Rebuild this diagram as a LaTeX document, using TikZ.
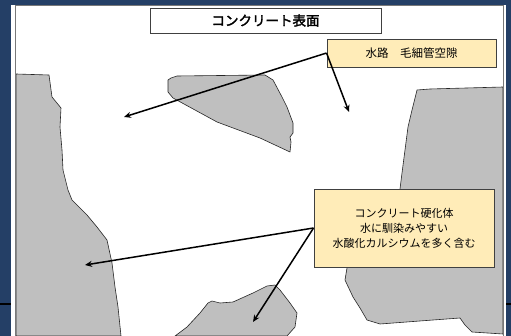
\documentclass[tikz,border=0pt]{standalone}
\usepackage{fontspec}
\usetikzlibrary{arrows.meta}
\newfontfamily\jp{Noto Sans CJK JP}
\newfontfamily\jpbold[FakeBold=2.2]{Noto Sans CJK JP}
\definecolor{navy}{RGB}{36,63,102}
\definecolor{rock}{RGB}{191,191,191}
\definecolor{note}{RGB}{255,236,184}
\definecolor{frame}{RGB}{120,120,120}
\tikzset{
  rockshape/.style={fill=rock, draw=black!85, line width=0.6pt, line join=round},
  notebox/.style={draw=black!75, fill=note, line width=0.9pt, inner sep=0pt, align=center},
  pointer/.style={-{Stealth[length=7pt,width=6pt]}, line width=1.5pt, black},
}
\begin{document}
\begin{tikzpicture}[x=1pt,y=-1pt]
\useasboundingbox (0,0) rectangle (511,336);
% background
\fill[navy] (0,0) rectangle (511,336);
\draw[black, line width=2pt] (0,304) -- (511,304);
\fill[white] (11,4.7) rectangle (505.5,336);
\fill[white] (16,6) rectangle (503,336);
% rocks
\draw[rockshape] (16,74) -- (49,75) -- (52,97) -- (61,108) -- (60,127) -- (62,150) -- (63,170) -- (68,190) -- (72,200) -- (87,215) -- (97,227) -- (107,240) -- (112,263) -- (115,287) -- (118,307) -- (121,336) -- (16,336) -- cycle;
\draw[rockshape] (168,80) -- (171,78) -- (177,76) -- (265,75) -- (273,80) -- (282,97) -- (287,107) -- (293,123) -- (293,133) -- (290,137) -- (291,142) -- (290,152) -- (260,138) -- (217,122) -- (173,98) -- (168,92) -- cycle;
\draw[rockshape] (417,90) -- (430,89) -- (503,87) -- (503,334) -- (472,332) -- (465,325) -- (460,318) -- (433,320) -- (380,324) -- (367,320) -- (360,308) -- (353,297) -- (345,280) -- (347,268) -- (350,262) -- (400,189) -- (402,173) -- (405,150) -- (408,127) -- (412,110) -- cycle;
\draw[rockshape] (175,336) -- (187,327) -- (200,313) -- (208,303) -- (212,301) -- (220,303) -- (233,302) -- (253,293) -- (267,286) -- (275,285) -- (280,290) -- (290,303) -- (297,313) -- (295,327) -- (287,336) -- cycle;
% panel frame
\draw[frame, line width=1.6pt] (15.5,340) -- (15.5,5.5) -- (503.5,5.5) -- (503.5,340);
% boxes
\node[draw=black!75, fill=white, line width=0.9pt, minimum width=231pt, minimum height=25pt, inner sep=0pt, font=\jpbold\fontsize{13.5}{15}\selectfont] (title) at (265.5,20.5) {コンクリート表面};
\node[notebox, minimum width=169pt, minimum height=28pt, font=\jp\fontsize{11.5}{13}\selectfont] (water) at (411.5,53) {水路　毛細管空隙};
\node[notebox, minimum width=180pt, minimum height=78pt, font=\jp\fontsize{11}{15}\selectfont] (cement) at (404,228) {コンクリート硬化体\\水に馴染みやすい\\水酸化カルシウムを多く含む};
% arrow targets
\coordinate (t1) at (124,117);
\coordinate (t2) at (349,112);
\coordinate (t3) at (85,265);
\coordinate (t4) at (253,322);
\draw[pointer] (water.west) -- (t1);
\draw[pointer] (water.west) -- (t2);
\draw[pointer] (cement.west) -- (t3);
\draw[pointer] (cement.west) -- (t4);
\end{tikzpicture}
\end{document}
